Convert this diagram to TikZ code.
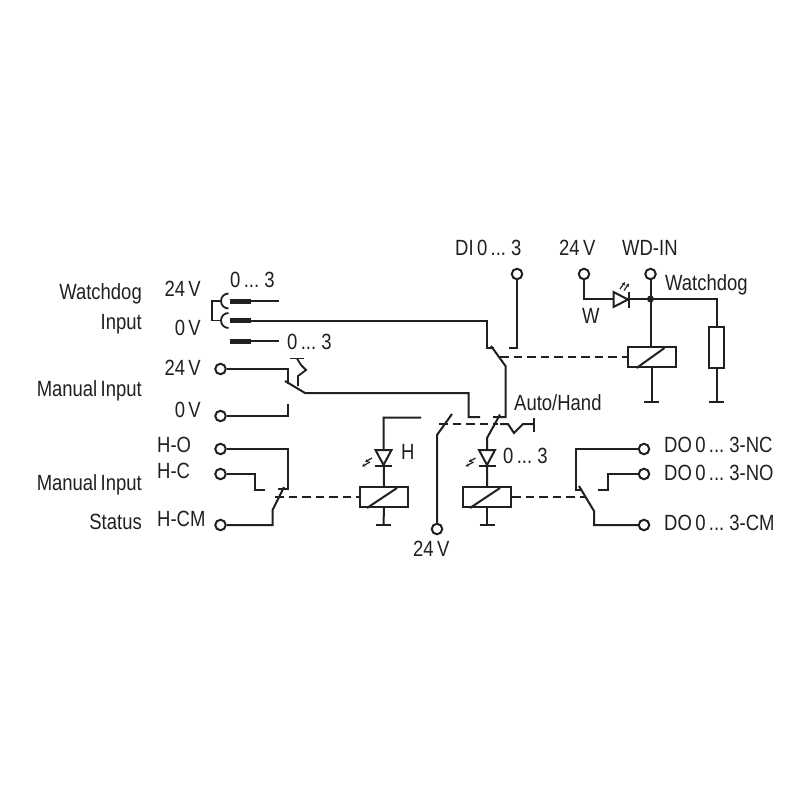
\documentclass[tikz,border=0pt]{standalone}
\usepackage{fontspec}
\setmainfont[FakeStretch=0.84,WordSpace=0.65]{Liberation Sans}
\usetikzlibrary{arrows.meta}
\definecolor{ink}{HTML}{231F20}
\tikzset{
  wire/.style={draw=ink,line width=2pt,line cap=butt,line join=miter},
  thin wire/.style={draw=ink,line width=1.8pt},
  dashwire/.style={draw=ink,line width=2pt,dash pattern=on 8.5pt off 5pt},
  term/.style={circle,draw=ink,line width=2pt,fill=white,minimum size=10.5pt,inner sep=0pt},
  relaybox/.style={rectangle,draw=ink,line width=2pt,fill=white,minimum width=48pt,minimum height=20pt,inner sep=0pt},
  resbox/.style={rectangle,draw=ink,line width=2pt,fill=white,minimum width=15pt,minimum height=41pt,inner sep=0pt},
  bar/.style={draw=ink,line width=5pt},
  led/.style={draw=ink,line width=2pt,line join=miter},
  lightarrow/.style={draw=ink,line width=1.2pt,-{Stealth[length=3.5pt,width=3.5pt]}},
  txt/.style={inner sep=0pt,text=ink,font=\fontsize{22}{22}\selectfont},
  lr/.style={txt,anchor=base east},
  ll/.style={txt,anchor=base west},
}
\begin{document}
\begin{tikzpicture}[x=1pt,y=-1pt]
\useasboundingbox[fill=white] (0,0) rectangle (800,800);

% terminals
\node[term] (t24a) at (220.5,369) {};
\node[term] (t0a)  at (220.5,416) {};
\node[term] (tho)  at (220.5,449) {};
\node[term] (thc)  at (220.5,474) {};
\node[term] (thcm) at (220.5,525) {};
\node[term] (t24b) at (437,529) {};
\node[term] (tdi)  at (517,274) {};
\node[term] (t24c) at (584,274) {};
\node[term] (twd)  at (650.5,274) {};
\node[term] (tnc)  at (644,449) {};
\node[term] (tno)  at (644,474) {};
\node[term] (tcm)  at (644,525) {};

% relays and resistor
\node[relaybox] (rw) at (651.5,357) {};
\node[relaybox] (rh) at (384,497) {};
\node[relaybox] (rd) at (487,497) {};
\node[resbox]   (res) at (716.5,347.5) {};
\draw[wire] (rw.south west)++(10,0) -- ++(28,-20);
\draw[wire] (rh.south west)++(8,0) -- ++(30,-20);
\draw[wire] (rd.south west)++(8,0) -- ++(30,-20);

% grounds
\coordinate (gw) at (651.5,402);
\coordinate (gr) at (716.5,402);
\coordinate (gh) at (383.5,525);
\coordinate (gd) at (487,525);
\draw[wire] (rw.south) -- (gw);
\draw[wire] (res.south) -- (gr);
\draw[wire] (rh.south) -- (gh);
\draw[wire] (rd.south) -- (gd);
\foreach \g in {gw,gr,gh,gd}
  \draw[wire] (\g)++(-7.5,0) -- ++(15,0);

% watchdog input connector
\coordinate (ba) at (230,301);
\coordinate (bb) at (230,320.5);
\coordinate (bc) at (230,341);
\coordinate (ea) at (279,301);
\coordinate (ec) at (279,341);
\draw[wire] (ba) -- (ea);
\draw[wire] (bc) -- (ec);
\foreach \b in {ba,bb,bc}
  \draw[bar] (\b) -- ++(21,0);
\draw[thin wire] (228.5,308.5) arc[start angle=90,end angle=270,radius=7.5];
\draw[thin wire] (228.5,328) arc[start angle=90,end angle=270,radius=7.5];
\draw[thin wire] (221,301) -- (212,301) -- (212,320.5) -- (221,320.5);

% watchdog contact
\coordinate (wb1) at (491,346);
\coordinate (wb2) at (505.5,366);
\draw[wire] (bb) -- (487,320.5) -- (487,348) -- (494,348);
\draw[wire] (wb1) -- (wb2) -- (505.5,417) -- (493,417);
\draw[wire] (tdi) -- (517,348) -- (509,348);
\draw[dashwire] (500,357) -- (rw.west);

% watchdog circuit
\coordinate (j) at (650.5,299);
\draw[wire] (t24c) -- (584,299) -- (j);
\draw[wire] (twd) -- (j) -- (650.5,347);
\draw[wire] (j) -- (716.5,299) -- (res.north);
\fill[ink] (j) circle (3.5pt);
\draw[led,fill=white] (613.5,292) -- (628,299.5) -- (613.5,307) -- cycle;
\draw[led] (628.5,291.5) -- (628.5,307.5);
\draw[lightarrow] (620,289) -- (625,282);
\draw[lightarrow] (624,290.5) -- (629,283.5);

% manual input switch
\coordinate (mb1) at (285,381);
\coordinate (mb2) at (305,393);
\draw[wire] (t24a) -- (288,369) -- (288,383.5);
\draw[wire] (mb1) -- (mb2) -- (468.5,393) -- (468.5,417) -- (480,417);
\draw[wire] (t0a) -- (288,416) -- (288,404);
\draw[thin wire] (290,358.5) -- (304,358.5);
\draw[thin wire] (297,358.5) -- (301,365) -- (306,370) -- (298,376) -- (298,386);

% status contact
\coordinate (sb1) at (284,487);
\coordinate (sb2) at (272.5,510);
\draw[wire] (tho) -- (288,449) -- (288,489) -- (278,489);
\draw[wire] (thc) -- (255,474) -- (255,489.5) -- (265,489.5);
\draw[wire] (thcm) -- (272.5,525) -- (sb2) -- (sb1);
\draw[dashwire] (275,497) -- (rh.west);

% H branch
\draw[wire] (421,417.5) -- (383.5,417.5) -- (rh.north);
\draw[led,fill=white] (375.5,450) -- (391.5,450) -- (383.5,465) -- cycle;
\draw[led] (375,465.5) -- (392,465.5);
\draw[lightarrow] (372,458) -- (365,462);
\draw[lightarrow] (370,462) -- (362,466.5);

% 24 V switch and hand coupling
\coordinate (ab1) at (452,414);
\coordinate (ab2) at (437,435);
\draw[wire] (t24b) -- (ab2) -- (ab1);
\draw[dashwire] (439,424) -- (498,424);
\draw[wire] (500,424) -- (508,424) -- (514,433) -- (523,424) -- (534,424);
\draw[wire] (534,418) -- (534,432);

% D branch
\coordinate (db1) at (500,414.5);
\coordinate (db2) at (487,438);
\draw[wire] (db1) -- (db2) -- (rd.north);
\draw[led,fill=white] (479,450) -- (495,450) -- (487,465) -- cycle;
\draw[led] (478.5,465.5) -- (495.5,465.5);
\draw[lightarrow] (475.5,458) -- (468.5,462);
\draw[lightarrow] (473.5,462) -- (465.5,466.5);

% output contact
\coordinate (ob1) at (579,486);
\coordinate (ob2) at (594,511);
\draw[wire] (tnc) -- (575.5,449) -- (575.5,489.5) -- (582,489.5);
\draw[wire] (tno) -- (608,474) -- (608,489.5) -- (598,489.5);
\draw[wire] (tcm) -- (594,525) -- (ob2) -- (ob1);
\draw[dashwire] (rd.east) -- (585,497);

% labels
\node[lr] (l1) at (142,299) {Watchdog};
\node[lr] (l2) at (142,329) {Input};
\node[lr] (l3) at (142,396) {Manual Input};
\node[lr] (l4) at (142,490) {Manual Input};
\node[lr] (l5) at (142,529) {Status};
\node[lr] (l6) at (201,296) {24 V};
\node[lr] (l7) at (201,335) {0 V};
\node[lr] (l8) at (201,375) {24 V};
\node[lr] (l9) at (201,417) {0 V};
\node[ll] (l10) at (230,287) {0 ... 3};
\node[ll] (l11) at (287,349) {0 ... 3};
\node[ll] (l12) at (157,452) {H-O};
\node[ll] (l13) at (157,478) {H-C};
\node[ll] (l14) at (157,526) {H-CM};
\node[ll] (l15) at (401,459) {H};
\node[ll] (l16) at (503,463) {0 ... 3};
\node[ll] (l17) at (413,556) {24 V};
\node[ll] (l18) at (514,410.5) {Auto/Hand};
\node[ll] (l19) at (664,452.5) {DO 0 ... 3-NC};
\node[ll] (l20) at (664,480.5) {DO 0 ... 3-NO};
\node[ll] (l21) at (664,530.5) {DO 0 ... 3-CM};
\node[ll] (l22) at (455,255) {DI 0 ... 3};
\node[ll] (l23) at (559,255) {24 V};
\node[ll] (l24) at (622,255) {WD-IN};
\node[ll] (l25) at (665,290) {Watchdog};
\node[ll] (l26) at (582,323) {W};
\end{tikzpicture}
\end{document}
